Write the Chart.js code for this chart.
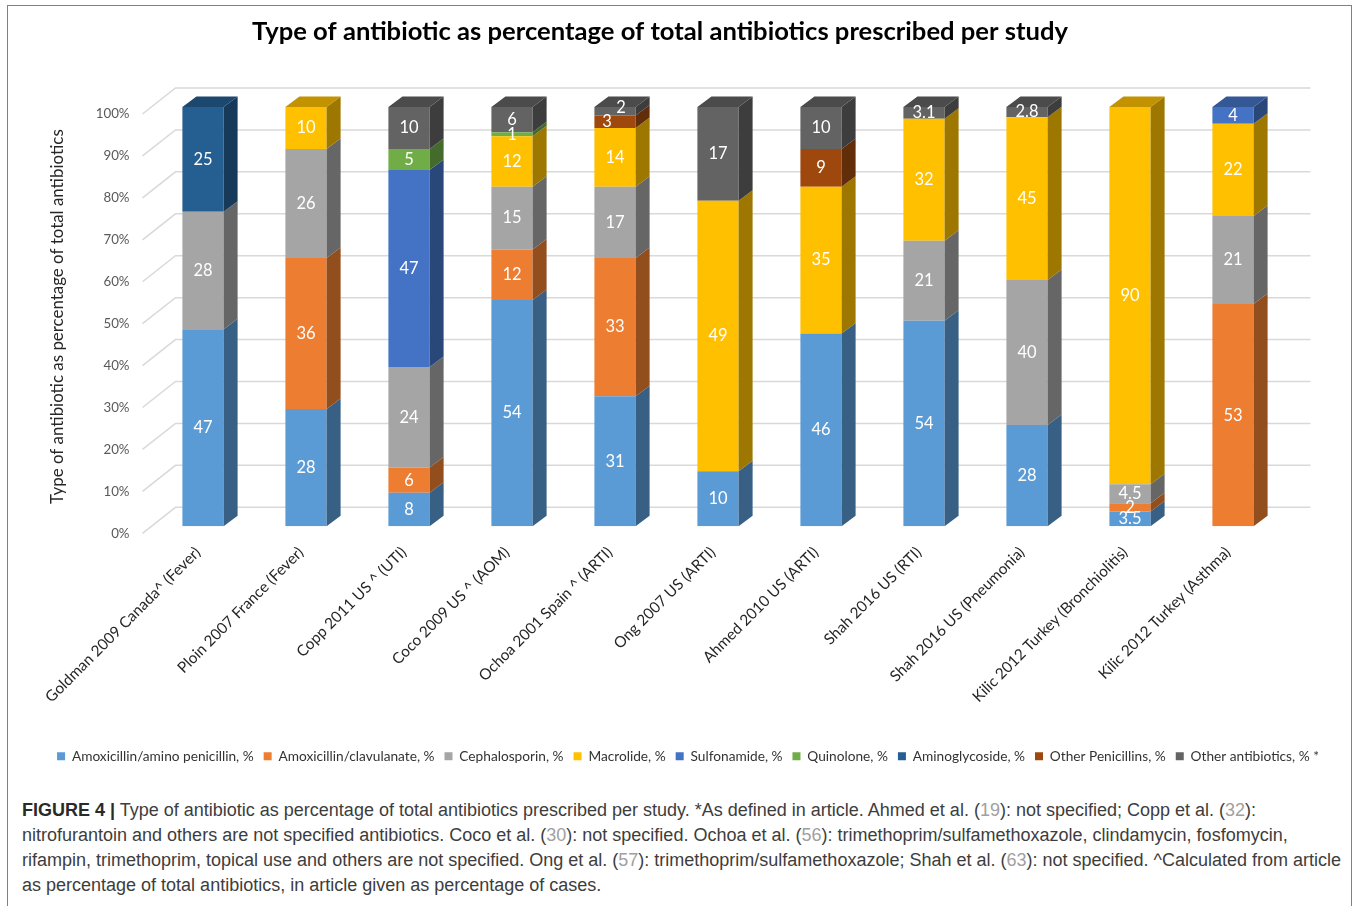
<!DOCTYPE html>
<html><head><meta charset="utf-8">
<script src="https://cdn.jsdelivr.net/npm/chart.js@4/dist/chart.umd.min.js"></script>
<style>
html,body{margin:0;padding:0;background:#fff;}
#frame{position:absolute;left:7px;top:5px;width:1345px;height:930px;border:1.5px solid #808080;border-bottom:none;box-sizing:border-box;}
#wrap{position:absolute;left:0;top:0;width:1357px;height:790px;}
#caption{position:absolute;left:22px;top:798px;font-family:"Liberation Sans Narrow","Liberation Sans",Arial,sans-serif;font-size:18px;line-height:25px;color:#3d3d3d;white-space:nowrap;}
#caption b{color:#2a2a2a;}
#caption .ref{color:#a0a0a0;}
</style></head>
<body>
<div id="frame"></div>
<div id="wrap"><canvas id="c" width="1357" height="790"></canvas></div>
<div id="caption">
<div id="l1"><b>FIGURE 4 |</b> Type of antibiotic as percentage of total antibiotics prescribed per study. *As defined in article. Ahmed et al. (<span class="ref">19</span>): not specified; Copp et al. (<span class="ref">32</span>):</div>
<div id="l2">nitrofurantoin and others are not specified antibiotics. Coco et al. (<span class="ref">30</span>): not specified. Ochoa et al. (<span class="ref">56</span>): trimethoprim/sulfamethoxazole, clindamycin, fosfomycin,</div>
<div id="l3">rifampin, trimethoprim, topical use and others are not specified. Ong et al. (<span class="ref">57</span>): trimethoprim/sulfamethoxazole; Shah et al. (<span class="ref">63</span>): not specified. ^Calculated from article</div>
<div id="l4">as percentage of total antibiotics, in article given as percentage of cases.</div>
</div>
<script>
// ---------- DATA ----------
const chartTitle = 'Type of antibiotic as percentage of total antibiotics prescribed per study';
const yAxisTitle = 'Type of antibiotic as percentage of total antibiotics';
const studies = [
  "Goldman 2009 Canada^ (Fever)", "Ploin 2007 France (Fever)", "Copp 2011 US ^ (UTI)",
  "Coco 2009 US ^ (AOM)", "Ochoa 2001 Spain ^ (ARTI)", "Ong 2007 US (ARTI)",
  "Ahmed 2010 US (ARTI)", "Shah 2016 US (RTI)", "Shah 2016 US (Pneumonia)",
  "Kilic 2012 Turkey (Bronchiolitis)", "Kilic 2012 Turkey (Asthma)"
];
const amoxicillin    = [47,   28,   8,    54,   31,   10,   46,   54,   28,   3.5,  null];
const amoxClavulanate= [null, 36,   6,    12,   33,   null, null, null, null, 2,    53];
const cephalosporin  = [28,   26,   24,   15,   17,   null, null, 21,   40,   4.5,  21];
const macrolide      = [null, 10,   null, 12,   14,   49,   35,   32,   45,   90,   22];
const sulfonamide    = [null, null, 47,   null, null, null, null, null, null, null, 4];
const quinolone      = [null, null, 5,    1,    null, null, null, null, null, null, null];
const aminoglycoside = [25,   null, null, null, null, null, null, null, null, null, null];
const otherPenicillins=[null, null, null, null, 3,    null, 9,    null, null, null, null];
const otherAntibiotics=[null, null, 10,   6,    2,    17,   10,   3.1,  2.8,  null, null];

const seriesNames = ["Amoxicillin/amino penicillin, %", "Amoxicillin/clavulanate, %", "Cephalosporin, %",
  "Macrolide, %", "Sulfonamide, %", "Quinolone, %", "Aminoglycoside, %", "Other Penicillins, %", "Other antibiotics, % *"];
const seriesValues = [amoxicillin, amoxClavulanate, cephalosporin, macrolide, sulfonamide, quinolone,
  aminoglycoside, otherPenicillins, otherAntibiotics];
const seriesColors = ["#5B9BD5", "#ED7D31", "#A5A5A5", "#FFC000", "#4472C4", "#70AD47", "#255E91", "#9E480E", "#636363"];
const yTickValues = [0, 10, 20, 30, 40, 50, 60, 70, 80, 90, 100];

// ---------- 100% stacked: share of each study's total ----------
const totals = studies.map((_, i) => seriesValues.reduce((s, arr) => s + (arr[i] || 0), 0));

function shade(hex, f) {
  const n = parseInt(hex.slice(1), 16);
  const r = Math.round(((n >> 16) & 255) * f), g = Math.round(((n >> 8) & 255) * f), b = Math.round((n & 255) * f);
  return `rgb(${r},${g},${b})`;
}

const datasets = seriesNames.map((name, k) => ({
  label: name,
  raw: seriesValues[k],
  data: seriesValues[k].map((v, i) => v == null ? null : v / totals[i] * 100),
  backgroundColor: seriesColors[k],
  borderWidth: 0,
  categoryPercentage: 0.8,
  barPercentage: 0.5
}));

const FONT = "Lato, 'Open Sans', sans-serif";
const DX = 14, DY = -10.5;

const titlePlugin = {
  id: 'topTitle',
  afterDraw(chart) {
    const {ctx} = chart;
    ctx.save();
    ctx.fillStyle = '#000';
    ctx.font = `bold 25.6px ${FONT}`;
    ctx.textAlign = 'center';
    ctx.textBaseline = 'middle';
    ctx.fillText(chartTitle, 660, 32);
    ctx.restore();
  }
};

const gridPlugin = {
  id: 'grid3d',
  beforeDatasetsDraw(chart) {
    const {ctx, chartArea: ca} = chart;
    const ys = chart.scales.y;
    ctx.save();
    ctx.strokeStyle = '#d9d9d9';
    ctx.lineWidth = 1.5;
    yTickValues.forEach(v => {
      const py = ys.getPixelForValue(v);
      ctx.beginPath();
      ctx.moveTo(ca.left - 9, py + 7);
      ctx.lineTo(ca.left + 24, py - 19);
      ctx.lineTo(ca.right + 26, py - 19);
      ctx.stroke();
    });
    ctx.restore();
  }
};

const bar3dPlugin = {
  id: 'bar3d',
  afterDatasetsDraw(chart) {
    const {ctx} = chart;
    const n = studies.length;
    const topIdx = [];
    for (let i = 0; i < n; i++) {
      let t = -1;
      chart.data.datasets.forEach((ds, k) => { if (ds.data[i]) t = k; });
      topIdx.push(t);
    }
    ctx.save();
    chart.data.datasets.forEach((ds, k) => {
      const meta = chart.getDatasetMeta(k);
      meta.data.forEach((bar, i) => {
        if (!ds.data[i]) return;
        const {x, y, base, width} = bar.getProps(['x', 'y', 'base', 'width'], true);
        const l = x - width / 2, r = x + width / 2;
        ctx.fillStyle = shade(seriesColors[k], 0.62);
        ctx.beginPath();
        ctx.moveTo(r, y); ctx.lineTo(r + DX, y + DY); ctx.lineTo(r + DX, base + DY); ctx.lineTo(r, base);
        ctx.closePath(); ctx.fill();
        if (topIdx[i] === k) {
          ctx.fillStyle = shade(seriesColors[k], 0.76);
          ctx.beginPath();
          ctx.moveTo(l, y); ctx.lineTo(l + DX, y + DY); ctx.lineTo(r + DX, y + DY); ctx.lineTo(r, y);
          ctx.closePath(); ctx.fill();
        }
      });
    });
    // value labels (tiny neighbouring segments get nudged so they do not overlap)
    ctx.fillStyle = '#ffffff';
    ctx.font = `16.5px ${FONT}`;
    ctx.textAlign = 'center';
    ctx.textBaseline = 'middle';
    chart.data.datasets.forEach((ds, k) => {
      const meta = chart.getDatasetMeta(k);
      meta.data.forEach((bar, i) => {
        if (!ds.data[i]) return;
        const {x, y, base} = bar.getProps(['x', 'y', 'base'], true);
        let cx = x, cy = (y + base) / 2;
        if (base - y < 14 && topIdx[i] !== k) {
          const nextK = chart.data.datasets.findIndex((d, kk) => kk > k && d.data[i]);
          if (nextK >= 0) {
            const nb = chart.getDatasetMeta(nextK).data[i].getProps(['y', 'base'], true);
            if (nb.base - nb.y < 14 && Math.abs(((nb.y + nb.base) / 2) - cy) < 14) cx = x - 8;
          }
        } else if (base - y < 14 && topIdx[i] === k) {
          const prevK = chart.data.datasets.map((d, kk) => (kk < k && d.data[i]) ? kk : -1).filter(v => v >= 0).pop();
          if (prevK !== undefined) {
            const pb = chart.getDatasetMeta(prevK).data[i].getProps(['y', 'base'], true);
            if (pb.base - pb.y < 14) { cx = x + 6; cy -= 4; }
          }
        }
        ctx.fillText(String(ds.raw[i]), cx, cy);
      });
    });
    ctx.restore();
  }
};

new Chart(document.getElementById('c'), {
  type: 'bar',
  data: {labels: studies, datasets},
  options: {
    responsive: false,
    animation: false,
    layout: {padding: {left: 24, right: 5, top: 107, bottom: 17}},
    plugins: {
      title: {display: false},
      legend: {
        position: 'bottom',
        labels: {
          boxWidth: 8, boxHeight: 8, padding: 10,
          color: '#333333',
          font: {family: FONT, size: 13.7}
        }
      },
      tooltip: {enabled: false}
    },
    scales: {
      x: {
        stacked: true,
        grid: {display: false, drawTicks: false},
        border: {display: false},
        ticks: {
          color: '#262626',
          font: {family: FONT, size: 15.3},
          minRotation: 45, maxRotation: 45,
          padding: 17, labelOffset: -5, autoSkip: false
        },
        afterFit(s) { s.height = 213; }
      },
      y: {
        stacked: true,
        min: 0, max: 100,
        grid: {display: false, drawTicks: false},
        border: {display: false},
        afterBuildTicks(s) { s.ticks = yTickValues.map(v => ({value: v})); },
        ticks: {
          color: '#595959',
          font: {family: FONT, size: 13.3},
          padding: 22,
          labelOffset: 7,
          callback: v => v + '%'
        },
        title: {
          display: true,
          text: yAxisTitle,
          color: '#262626',
          font: {family: FONT, size: 16.9},
          padding: {top: 23, bottom: 0}
        },
        afterFit(s) { s.width = 127.5; }
      },
      yRight: {
        position: 'right',
        display: true,
        grid: {display: false, drawTicks: false},
        border: {display: false},
        ticks: {display: false},
        afterFit(s) { s.width = 67.5; }
      }
    }
  },
  plugins: [gridPlugin, bar3dPlugin, titlePlugin]
});
</script>
</body></html>
